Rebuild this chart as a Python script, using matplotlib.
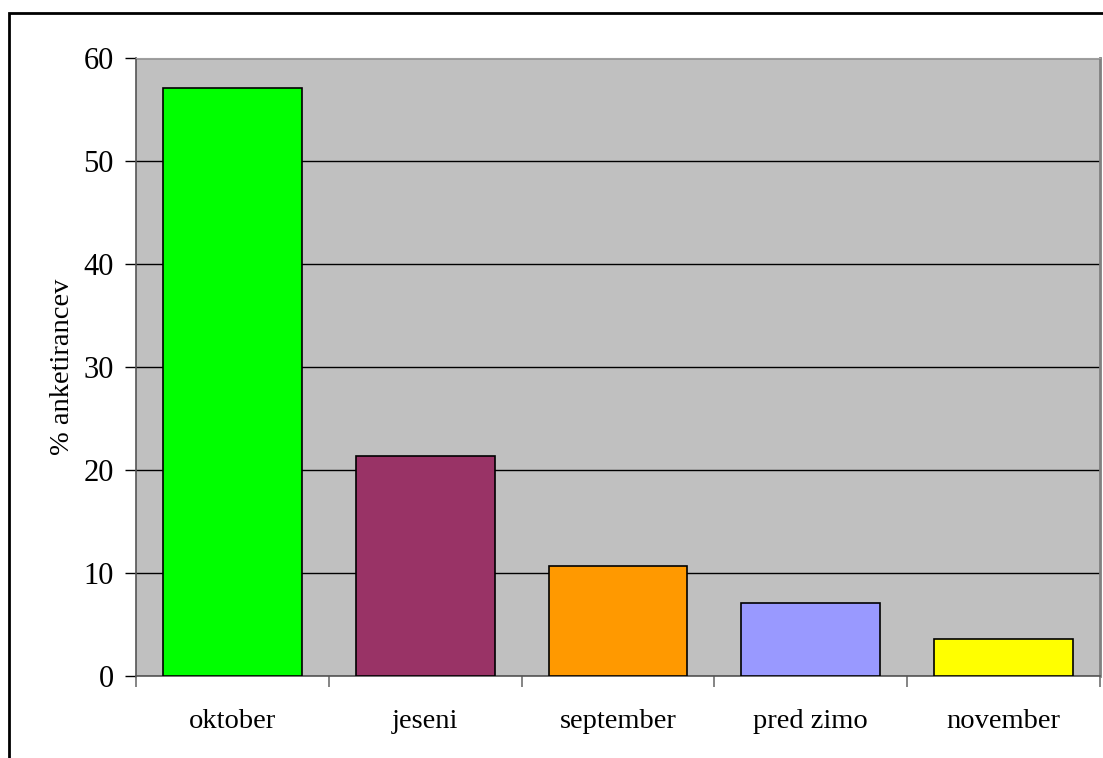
import numpy as np
import matplotlib.pyplot as plt
from matplotlib.patches import Rectangle

# answers to the survey, in percent of respondents
categories = ['oktober', 'jeseni', 'september', 'pred zimo', 'november']
values = [57.1, 21.4, 10.7, 7.1, 3.6]
colors = ['#00FF00', '#993366', '#FF9900', '#9999FF', '#FFFF00']

plt.rcParams['font.family'] = ['Liberation Serif', 'DejaVu Serif']

fig = plt.figure(figsize=(11.03, 7.58), dpi=100)
ax = fig.add_axes([136/1103, 1 - 676/758, 964/1103, 618/758])

# outer chart frame (cut off at right and bottom, like the reference)
fig.patches.append(Rectangle((9/1103, -0.1), 1.2, 1 - 13/758 + 0.1,
                             transform=fig.transFigure, fill=False,
                             edgecolor='black', linewidth=2))

x = np.arange(len(categories))
ax.set_facecolor('#C0C0C0')
ax.bar(x, values, width=0.72, color=colors, edgecolor='black', linewidth=1.2, zorder=3)

ax.set_xlim(-0.5, len(categories) - 0.5)
ax.set_ylim(0, 60)
ax.set_yticks(np.arange(0, 61, 10))
ax.yaxis.grid(True, color='black', linewidth=1, zorder=1)
ax.set_axisbelow(True)

# category labels centered, ticks at the boundaries
ax.set_xticks(x)
ax.set_xticklabels(categories, fontsize=20.5)
ax.tick_params(axis='x', length=0, pad=24)
ax.set_xticks(np.arange(-0.5, len(categories)), minor=True)
ax.tick_params(axis='x', which='minor', length=8, color='#707070', width=1.2)
ax.tick_params(axis='y', labelsize=22, length=8, width=1, pad=8)

ax.set_ylabel('% anketirancev', fontsize=20.5, labelpad=6)

for side in ['left', 'bottom']:
    ax.spines[side].set_color('#555555')
    ax.spines[side].set_linewidth(1.2)
ax.spines['top'].set_color('#A0A0A0')
ax.spines['right'].set_color('#808080')
ax.spines['right'].set_linewidth(2)

fig.savefig('out.png', dpi=100)
